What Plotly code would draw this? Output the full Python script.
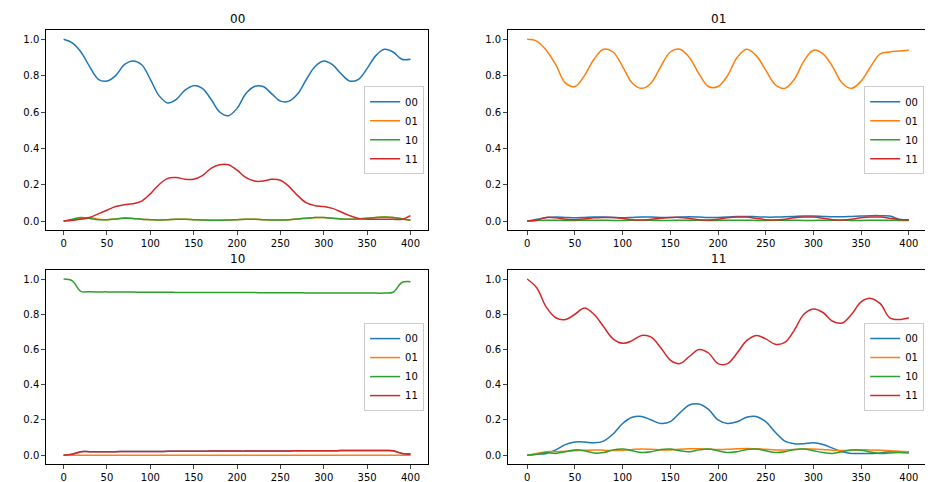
import plotly.graph_objects as go

x = list(range(0, 401, 10))

# panel "00"
p00_00 = [1.0,0.98,0.93,0.85,0.78,0.77,0.80,0.86,0.88,0.86,0.78,0.69,0.65,0.67,0.72,0.745,0.73,0.67,0.60,0.58,0.62,0.70,0.74,0.74,0.70,0.66,0.66,0.70,0.78,0.85,0.88,0.86,0.81,0.77,0.78,0.84,0.91,0.945,0.93,0.89,0.89]
p00_11 = [0.0,0.005,0.01,0.02,0.04,0.06,0.08,0.09,0.095,0.11,0.15,0.20,0.235,0.24,0.23,0.23,0.25,0.29,0.31,0.31,0.28,0.24,0.22,0.22,0.23,0.225,0.19,0.14,0.10,0.085,0.08,0.07,0.05,0.03,0.015,0.01,0.01,0.01,0.01,0.01,0.03]
p00_01 = [0.0,0.005,0.015,0.02,0.01,0.008,0.012,0.018,0.015,0.01,0.008,0.006,0.008,0.01,0.01,0.008,0.006,0.005,0.005,0.006,0.008,0.01,0.01,0.008,0.006,0.006,0.008,0.012,0.016,0.02,0.02,0.016,0.012,0.01,0.012,0.016,0.02,0.022,0.02,0.012,0.005]
p00_10 = [0.0,0.01,0.02,0.015,0.008,0.008,0.012,0.016,0.015,0.01,0.008,0.006,0.008,0.01,0.01,0.008,0.006,0.005,0.005,0.006,0.008,0.01,0.01,0.008,0.006,0.006,0.008,0.012,0.016,0.02,0.02,0.016,0.012,0.01,0.012,0.016,0.02,0.022,0.02,0.012,0.005]

# panel "01"
p01_01 = [1.0,0.99,0.94,0.86,0.76,0.74,0.80,0.89,0.945,0.93,0.85,0.76,0.73,0.76,0.85,0.93,0.945,0.90,0.81,0.74,0.74,0.80,0.90,0.945,0.91,0.83,0.75,0.73,0.78,0.88,0.94,0.92,0.85,0.76,0.73,0.77,0.85,0.92,0.93,0.935,0.94]
p01_00 = [0.0,0.01,0.02,0.022,0.02,0.018,0.02,0.022,0.022,0.02,0.018,0.02,0.022,0.022,0.02,0.02,0.022,0.024,0.022,0.02,0.02,0.022,0.025,0.026,0.024,0.022,0.022,0.024,0.026,0.028,0.028,0.026,0.024,0.024,0.026,0.028,0.03,0.03,0.028,0.01,0.005]
p01_11 = [0.0,0.005,0.02,0.018,0.01,0.008,0.012,0.018,0.02,0.02,0.015,0.008,0.006,0.01,0.016,0.02,0.02,0.015,0.008,0.006,0.01,0.018,0.022,0.022,0.015,0.008,0.006,0.01,0.018,0.022,0.022,0.016,0.008,0.006,0.01,0.018,0.022,0.022,0.016,0.008,0.008]
p01_10 = [0.0,0.003,0.005,0.005,0.004,0.004,0.005,0.005,0.005,0.004,0.004,0.005,0.005,0.005,0.004,0.004,0.005,0.005,0.005,0.004,0.004,0.005,0.005,0.005,0.004,0.004,0.005,0.005,0.005,0.004,0.004,0.005,0.005,0.005,0.004,0.004,0.005,0.005,0.005,0.004,0.004]

# panel "10"
p10_10 = [1.0,0.99,0.93,0.928,0.927,0.927,0.926,0.926,0.926,0.925,0.925,0.925,0.925,0.924,0.924,0.924,0.924,0.924,0.923,0.923,0.923,0.923,0.923,0.922,0.922,0.922,0.922,0.922,0.921,0.921,0.921,0.921,0.921,0.92,0.92,0.92,0.92,0.92,0.925,0.98,0.985]
p10_00 = [0.0,0.005,0.02,0.02,0.02,0.02,0.02,0.021,0.021,0.021,0.021,0.021,0.022,0.022,0.022,0.022,0.022,0.023,0.023,0.023,0.023,0.023,0.024,0.024,0.024,0.024,0.024,0.025,0.025,0.025,0.025,0.025,0.026,0.026,0.026,0.026,0.026,0.026,0.025,0.01,0.008]
p10_11 = [0.0,0.005,0.02,0.02,0.02,0.02,0.02,0.021,0.021,0.021,0.021,0.021,0.022,0.022,0.022,0.022,0.022,0.023,0.023,0.023,0.023,0.023,0.024,0.024,0.024,0.024,0.024,0.025,0.025,0.025,0.025,0.025,0.026,0.026,0.026,0.026,0.026,0.026,0.025,0.01,0.005]
p10_01 = [0.0]*41

# panel "11"
p11_11 = [1.0,0.95,0.84,0.78,0.77,0.80,0.835,0.80,0.73,0.66,0.635,0.65,0.68,0.67,0.61,0.54,0.52,0.56,0.60,0.58,0.52,0.52,0.58,0.65,0.68,0.66,0.63,0.64,0.71,0.80,0.83,0.81,0.76,0.75,0.80,0.87,0.89,0.86,0.78,0.77,0.78]
p11_00 = [0.0,0.005,0.01,0.03,0.06,0.075,0.075,0.07,0.08,0.12,0.18,0.215,0.22,0.20,0.18,0.19,0.24,0.285,0.29,0.26,0.20,0.18,0.19,0.215,0.22,0.19,0.13,0.08,0.065,0.065,0.07,0.06,0.04,0.02,0.01,0.01,0.01,0.012,0.02,0.02,0.02]
p11_01 = [0.0,0.01,0.02,0.02,0.022,0.025,0.028,0.03,0.028,0.026,0.028,0.032,0.035,0.033,0.03,0.03,0.034,0.036,0.036,0.034,0.032,0.033,0.036,0.038,0.036,0.033,0.03,0.03,0.032,0.035,0.035,0.032,0.028,0.026,0.028,0.03,0.03,0.028,0.025,0.022,0.02]
p11_10 = [0.0,0.005,0.015,0.01,0.02,0.03,0.025,0.012,0.015,0.03,0.035,0.025,0.015,0.02,0.032,0.035,0.025,0.02,0.03,0.035,0.025,0.015,0.02,0.032,0.035,0.025,0.015,0.02,0.032,0.035,0.025,0.015,0.01,0.02,0.03,0.028,0.018,0.01,0.012,0.015,0.012]

labels = ["00", "01", "10", "11"]
colors = {"00": "#1f77b4", "01": "#ff7f0e", "10": "#2ca02c", "11": "#d62728"}
panels = {
    "00": {"00": p00_00, "01": p00_01, "10": p00_10, "11": p00_11},
    "01": {"00": p01_00, "01": p01_01, "10": p01_10, "11": p01_11},
    "10": {"00": p10_00, "01": p10_01, "10": p10_10, "11": p10_11},
    "11": {"00": p11_00, "01": p11_01, "10": p11_10, "11": p11_11},
}

xd = [[0.041, 0.45], [0.536, 0.986]]
yd = [[0.539, 0.954], [0.054, 0.456]]

fig = go.Figure()
layout = dict(width=933, height=482, margin=dict(l=0, r=0, t=0, b=0),
              plot_bgcolor="white", paper_bgcolor="white",
              font=dict(family="DejaVu Sans", size=10, color="black"),
              annotations=[])
for i, name in enumerate(labels):
    r, c = divmod(i, 2)
    n = i + 1
    xa = "x" if n == 1 else f"x{n}"
    ya = "y" if n == 1 else f"y{n}"
    lg = "legend" if n == 1 else f"legend{n}"
    for s in labels:
        fig.add_trace(go.Scatter(x=x, y=panels[name][s], name=s, mode="lines",
                                 line=dict(color=colors[s], width=1.5, shape="spline"),
                                 xaxis=xa, yaxis=ya, legend=lg))
    ax = dict(showline=True, mirror=True, linecolor="black", linewidth=1,
              ticks="outside", ticklen=4, showgrid=False, zeroline=False)
    layout["xaxis" if n == 1 else f"xaxis{n}"] = dict(ax, domain=xd[c], range=[-20, 420],
                                                     tickvals=list(range(0, 401, 50)), anchor=ya)
    layout["yaxis" if n == 1 else f"yaxis{n}"] = dict(ax, domain=yd[r], range=[-0.05, 1.05],
                                                     tickvals=[0, 0.2, 0.4, 0.6, 0.8, 1.0],
                                                     ticktext=["0.0", "0.2", "0.4", "0.6", "0.8", "1.0"],
                                                     anchor=xa)
    layout[lg] = dict(x=xd[c][1] - 0.004, xanchor="right",
                      y=(yd[r][0] + yd[r][1]) / 2, yanchor="middle",
                      bgcolor="white", bordercolor="#cccccc", borderwidth=1,
                      font=dict(size=10), tracegroupgap=0, itemwidth=30)
    layout["annotations"].append(dict(text=name, x=(xd[c][0] + xd[c][1]) / 2, y=yd[r][1],
                                      xref="paper", yref="paper", xanchor="center",
                                      yanchor="bottom", showarrow=False, yshift=2,
                                      font=dict(size=12)))
fig.update_layout(**layout)
fig.write_html("out.html")
